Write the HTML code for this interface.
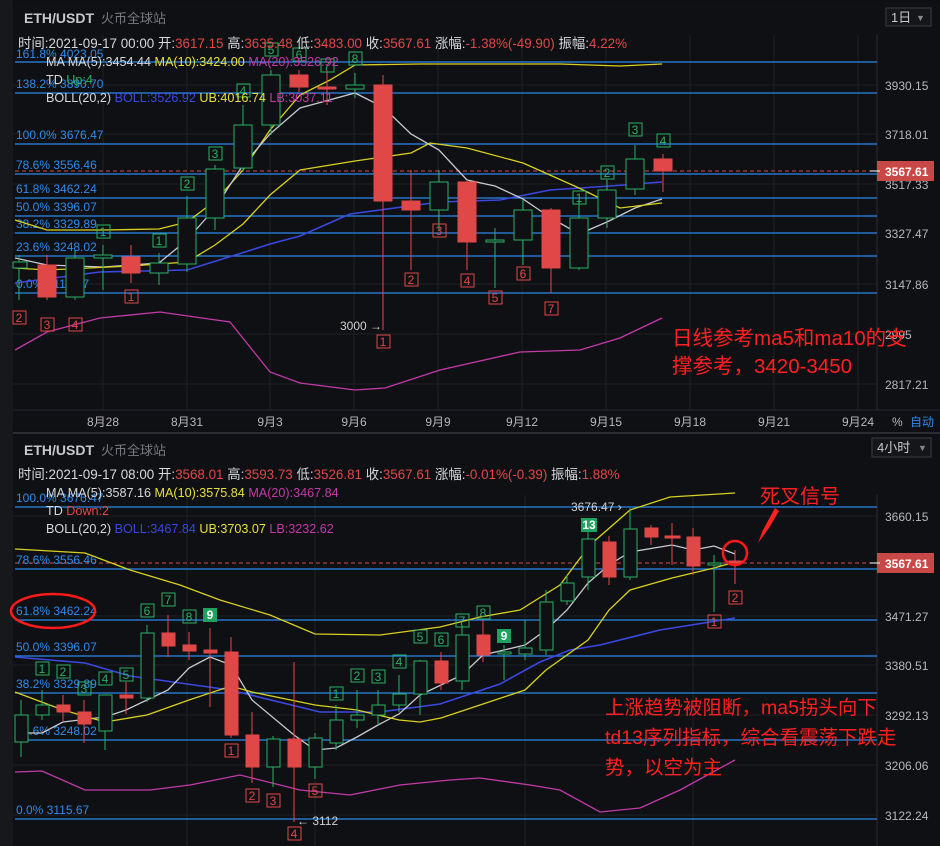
<!DOCTYPE html><html><head><meta charset="utf-8"><style>
body{margin:0;background:#0e0f12;}
svg{display:block}
text{font-family:"Liberation Sans","Noto Sans CJK SC",sans-serif;}
</style></head><body>
<svg width="940" height="846" viewBox="0 0 940 846" xmlns="http://www.w3.org/2000/svg">
<rect width="940" height="846" fill="#0e0f12"/>
<rect x="0" y="0" width="13" height="846" fill="#17181c"/>
<rect x="13" y="2" width="927" height="428" fill="#0f1013"/>
<rect x="13" y="436" width="927" height="410" fill="#0f1013"/>
<line x1="13" y1="433" x2="940" y2="433" stroke="#2a2c32" stroke-width="2"/>
<g stroke="#1d1f24" stroke-width="1">
<line x1="103" y1="35" x2="103" y2="410"/><line x1="187" y1="35" x2="187" y2="410"/><line x1="270" y1="35" x2="270" y2="410"/><line x1="354" y1="35" x2="354" y2="410"/><line x1="438" y1="35" x2="438" y2="410"/><line x1="522" y1="35" x2="522" y2="410"/><line x1="606" y1="35" x2="606" y2="410"/><line x1="690" y1="35" x2="690" y2="410"/><line x1="774" y1="35" x2="774" y2="410"/><line x1="858" y1="35" x2="858" y2="410"/>
<line x1="13" y1="85" x2="877" y2="85"/><line x1="13" y1="134" x2="877" y2="134"/><line x1="13" y1="184" x2="877" y2="184"/><line x1="13" y1="233" x2="877" y2="233"/><line x1="13" y1="284" x2="877" y2="284"/><line x1="13" y1="334" x2="877" y2="334"/><line x1="13" y1="384" x2="877" y2="384"/>
<line x1="13" y1="410" x2="940" y2="410" stroke="#24262c"/>
<line x1="187" y1="495" x2="187" y2="846"/><line x1="315" y1="495" x2="315" y2="846"/><line x1="525" y1="495" x2="525" y2="846"/><line x1="693" y1="495" x2="693" y2="846"/>
<line x1="13" y1="516" x2="877" y2="516"/><line x1="13" y1="616" x2="877" y2="616"/><line x1="13" y1="665" x2="877" y2="665"/><line x1="13" y1="715" x2="877" y2="715"/><line x1="13" y1="765" x2="877" y2="765"/><line x1="13" y1="815" x2="877" y2="815"/>
</g>
<line x1="877" y1="35" x2="877" y2="410" stroke="#2a2c32"/>
<line x1="877" y1="495" x2="877" y2="846" stroke="#2a2c32"/>
<g stroke="#2a86e8" stroke-width="1.3">
<line x1="15" y1="62" x2="877" y2="62"/><line x1="15" y1="93" x2="877" y2="93"/><line x1="15" y1="144" x2="877" y2="144"/><line x1="15" y1="174" x2="877" y2="174"/><line x1="15" y1="198" x2="877" y2="198"/><line x1="15" y1="216" x2="877" y2="216"/><line x1="15" y1="233" x2="877" y2="233"/><line x1="15" y1="256" x2="877" y2="256"/><line x1="15" y1="293" x2="877" y2="293"/>
</g>
<line x1="15" y1="171" x2="877" y2="171" stroke="#d94a4a" stroke-dasharray="4,3"/>
<g fill="#2f8bea" font-size="12">
<text x="16" y="58">161.8% 4023.05</text><text x="16" y="88">138.2% 3890.70</text><text x="16" y="139">100.0% 3676.47</text><text x="16" y="169">78.6% 3556.46</text><text x="16" y="193">61.8% 3462.24</text><text x="16" y="211">50.0% 3396.07</text><text x="16" y="228">38.2% 3329.89</text><text x="16" y="251">23.6% 3248.02</text><text x="16" y="288">0.0% 3115.67</text>
</g>
<g fill="none" stroke-width="1.3">
<polyline stroke="#d8d020" points="15,220 47,230 103,230 159,229 187,222 215,201 243,170 270,130 300,95 330,80 355,65 420,64 560,64 620,66 662,64"/>
<polyline stroke="#3a48e0" stroke-width="1.6" points="15,283 100,272 187,270 245,252 270,244 300,236 350,214 380,210 440,202 500,200 550,190 610,186 662,182"/>
<polyline stroke="#c23aa8" points="15,350 47,332 100,318 160,312 230,322 270,372 300,383 355,390 385,388 440,370 520,352 580,350 620,338 662,318"/>
<polyline stroke="#c8c8d0" points="15,258 47,265 103,267 159,263 187,240 215,208 243,165 270,134 300,108 355,93 383,107 411,134 439,150 467,180 495,186 523,199 551,218 579,234 607,222 635,208 662,199"/>
<polyline stroke="#d8d020" points="15,268 47,270 131,266 187,262 215,245 243,224 270,195 300,170 355,161 411,153 430,143 467,148 523,163 579,188 620,208 662,203"/>
</g>
<g stroke-width="1">
<g stroke="#2bb065" fill="#0f1013">
<line x1="19" y1="255" x2="19" y2="300"/><rect x="13" y="262" width="14" height="6"/>
<line x1="75" y1="250" x2="75" y2="300"/><rect x="66" y="258" width="18" height="39"/>
<line x1="103" y1="245" x2="103" y2="290"/><rect x="94" y="255" width="18" height="3"/>
<line x1="159" y1="253" x2="159" y2="285"/><rect x="150" y="263" width="18" height="10"/>
<line x1="187" y1="196" x2="187" y2="272"/><rect x="178" y="218" width="18" height="46"/>
<line x1="215" y1="165" x2="215" y2="230"/><rect x="206" y="169" width="18" height="49"/>
<line x1="243" y1="105" x2="243" y2="172"/><rect x="234" y="125" width="18" height="43"/>
<line x1="271" y1="70" x2="271" y2="135"/><rect x="262" y="75" width="18" height="50"/>
<line x1="355" y1="73" x2="355" y2="98"/><rect x="346" y="85" width="18" height="4"/>
<line x1="439" y1="170" x2="439" y2="230"/><rect x="430" y="182" width="18" height="28"/>
<line x1="495" y1="228" x2="495" y2="288"/><rect x="486" y="240" width="18" height="2"/>
<line x1="523" y1="200" x2="523" y2="265"/><rect x="514" y="210" width="18" height="30"/>
<line x1="579" y1="200" x2="579" y2="270"/><rect x="570" y="218" width="18" height="50"/>
<line x1="607" y1="180" x2="607" y2="228"/><rect x="598" y="190" width="18" height="28"/>
<line x1="635" y1="145" x2="635" y2="195"/><rect x="626" y="159" width="18" height="30"/>
</g>
<g stroke="#e04848" fill="#e04848">
<line x1="47" y1="255" x2="47" y2="300"/><rect x="38" y="265" width="18" height="32"/>
<line x1="131" y1="245" x2="131" y2="283"/><rect x="122" y="257" width="18" height="16"/>
<line x1="299" y1="70" x2="299" y2="92"/><rect x="290" y="75" width="18" height="12"/>
<line x1="327" y1="70" x2="327" y2="105"/><rect x="318" y="87" width="18" height="2"/>
<line x1="383" y1="75" x2="383" y2="330"/><rect x="374" y="85" width="18" height="116"/>
<line x1="411" y1="170" x2="411" y2="270"/><rect x="402" y="201" width="18" height="9"/>
<line x1="467" y1="180" x2="467" y2="270"/><rect x="458" y="182" width="18" height="60"/>
<line x1="551" y1="208" x2="551" y2="293"/><rect x="542" y="210" width="18" height="58"/>
<line x1="663" y1="154" x2="663" y2="192"/><rect x="654" y="159" width="18" height="12"/>
</g>
</g>
<g font-size="12" text-anchor="middle" fill="none" stroke-width="1">
<g stroke="#2bb065"><rect x="97" y="225" width="13" height="13"/><rect x="153" y="234" width="13" height="13"/><rect x="181" y="177" width="13" height="13"/><rect x="209" y="147" width="13" height="13"/><rect x="237" y="84" width="13" height="13"/><rect x="265" y="43" width="13" height="13"/><rect x="293" y="48" width="13" height="13"/><rect x="321" y="59" width="13" height="13"/><rect x="349" y="52" width="13" height="13"/><rect x="573" y="191" width="13" height="13"/><rect x="601" y="166" width="13" height="13"/><rect x="629" y="123" width="13" height="13"/><rect x="657" y="134" width="13" height="13"/></g>
<g stroke="#e04848"><rect x="13" y="311" width="13" height="13"/><rect x="41" y="318" width="13" height="13"/><rect x="69" y="318" width="13" height="13"/><rect x="125" y="290" width="13" height="13"/><rect x="377" y="335" width="13" height="13"/><rect x="405" y="273" width="13" height="13"/><rect x="433" y="224" width="13" height="13"/><rect x="461" y="274" width="13" height="13"/><rect x="489" y="291" width="13" height="13"/><rect x="517" y="267" width="13" height="13"/><rect x="545" y="302" width="13" height="13"/></g>
</g>
<g font-size="12" text-anchor="middle">
<g fill="#2bb065"><text x="103" y="236">1</text><text x="159" y="245">1</text><text x="187" y="188">2</text><text x="215" y="158">3</text><text x="243" y="95">4</text><text x="271" y="54">5</text><text x="299" y="59">6</text><text x="327" y="70">7</text><text x="355" y="63">8</text><text x="579" y="202">1</text><text x="607" y="177">2</text><text x="635" y="134">3</text><text x="663" y="145">4</text></g>
<g fill="#e04848"><text x="19" y="322">2</text><text x="47" y="329">3</text><text x="75" y="329">4</text><text x="131" y="301">1</text><text x="383" y="346">1</text><text x="411" y="284">2</text><text x="439" y="235">3</text><text x="467" y="285">4</text><text x="495" y="302">5</text><text x="523" y="278">6</text><text x="551" y="313">7</text></g>
</g>
<text x="340" y="330" fill="#d0d0d0" font-size="12">3000 →</text>
<text x="24" y="23" fill="#c8c8cc" font-size="14" font-weight="bold">ETH/USDT</text>
<text x="101" y="23" fill="#777a80" font-size="13">火币全球站</text>
<rect x="886" y="8" width="45" height="18" fill="#15161a" stroke="#3a3c42"/>
<text x="891" y="22" fill="#c8c8cc" font-size="13">1日</text><text x="916" y="21" fill="#888" font-size="9">▼</text>
<text x="18" y="48" font-size="13.4" fill="#d8d8dc">时间:2021-09-17 00:00 开:<tspan fill="#e04848">3617.15</tspan> 高:<tspan fill="#e04848">3635.48</tspan> 低:<tspan fill="#e04848">3483.00</tspan> 收:<tspan fill="#e04848">3567.61</tspan> 涨幅:<tspan fill="#e04848">-1.38%(-49.90)</tspan> 振幅:<tspan fill="#e04848">4.22%</tspan></text>
<text x="46" y="66" font-size="12.6" fill="#d8d8dc">MA  MA(5):3454.44 <tspan fill="#e8e040">MA(10):3424.00</tspan> <tspan fill="#c23aa8">MA(20):3526.92</tspan></text>
<text x="46" y="84" font-size="12.6" fill="#d8d8dc">TD  <tspan fill="#2bb065">Up:4</tspan></text>
<text x="46" y="102" font-size="12.6" fill="#d8d8dc">BOLL(20,2) <tspan fill="#3a48e0">BOLL:3526.92</tspan> <tspan fill="#e8e040">UB:4016.74</tspan> <tspan fill="#c23aa8">LB:3037.11</tspan></text>
<g font-size="12" fill="#b8b8bc">
<text x="885" y="90">3930.15</text><text x="885" y="139">3718.01</text><text x="885" y="189">3517.33</text><text x="885" y="238">3327.47</text><text x="885" y="289">3147.86</text><text x="885" y="339">2995</text><text x="885" y="389">2817.21</text>
</g>
<rect x="877" y="161" width="57" height="20" fill="#c84848"/><line x1="870" y1="171" x2="880" y2="171" stroke="#fff"/>
<text x="885" y="176" font-size="12" font-weight="bold" fill="#fff">3567.61</text>
<g font-size="12" fill="#b8b8bc" text-anchor="middle">
<text x="103" y="426">8月28</text><text x="187" y="426">8月31</text><text x="270" y="426">9月3</text><text x="354" y="426">9月6</text><text x="438" y="426">9月9</text><text x="522" y="426">9月12</text><text x="606" y="426">9月15</text><text x="690" y="426">9月18</text><text x="774" y="426">9月21</text><text x="858" y="426">9月24</text>
</g>
<text x="892" y="426" font-size="12" fill="#b8b8bc">%</text><text x="910" y="426" font-size="12" fill="#2f8bea">自动</text>
<text x="672" y="345" fill="#ff2020" font-size="20.5">日线参考ma5和ma10的支</text>
<text x="672" y="373" fill="#ff2020" font-size="20.5">撑参考，3420-3450</text>

<g stroke="#2a86e8" stroke-width="1.3">
<line x1="15" y1="507" x2="877" y2="507"/><line x1="15" y1="569" x2="877" y2="569"/><line x1="15" y1="620" x2="877" y2="620"/><line x1="15" y1="656" x2="877" y2="656"/><line x1="15" y1="693" x2="877" y2="693"/><line x1="15" y1="740" x2="877" y2="740"/><line x1="15" y1="819" x2="877" y2="819"/>
</g>
<line x1="15" y1="563" x2="877" y2="563" stroke="#d94a4a" stroke-dasharray="4,3"/>
<g fill="#2f8bea" font-size="12">
<text x="16" y="502">100.0% 3676.47</text><text x="16" y="564">78.6% 3556.46</text><text x="16" y="615">61.8% 3462.24</text><text x="16" y="651">50.0% 3396.07</text><text x="16" y="688">38.2% 3329.89</text><text x="16" y="735">23.6% 3248.02</text><text x="16" y="814">0.0% 3115.67</text>
</g>
<g fill="none" stroke-width="1.3">
<polyline stroke="#d8d020" points="15,549 85,553 130,570 180,585 220,600 270,615 315,634 380,635 440,627 480,617 520,610 560,585 590,545 630,510 670,497 735,493"/>
<polyline stroke="#3a48e0" stroke-width="1.6" points="15,657 85,663 130,676 230,690 320,712 380,712 440,704 500,684 540,662 570,650 600,645 660,630 735,618"/>
<polyline stroke="#c23aa8" points="15,772 42,771 85,790 150,790 190,785 240,775 300,790 350,795 400,785 450,780 480,778 530,785 560,790 600,812 640,808 680,790 735,760"/>
<polyline stroke="#c8c8d0" points="21,733 42,733 63,722 105,717 126,710 168,690 189,668 210,657 231,665 252,700 294,735 315,750 336,748 357,737 378,725 399,714 420,695 441,685 462,675 483,655 504,650 525,645 546,630 567,610 588,583 609,565 630,552 672,545 693,550 714,546 735,554"/>
<polyline stroke="#d8d020" points="15,692 63,710 105,722 147,715 189,700 231,686 252,692 315,705 357,710 399,720 420,722 441,718 483,704 525,690 546,670 588,640 609,610 630,590 672,578 714,568 735,562"/>
</g>
<g stroke-width="1">
<g stroke="#2bb065" fill="#0f1013">
<line x1="21" y1="700" x2="21" y2="757"/><rect x="15" y="715" width="13" height="27"/>
<line x1="42" y1="690" x2="42" y2="720"/><rect x="36" y="705" width="13" height="10"/>
<line x1="105" y1="695" x2="105" y2="750"/><rect x="99" y="695" width="13" height="36"/>
<line x1="147" y1="625" x2="147" y2="702"/><rect x="141" y="633" width="13" height="65"/>
<line x1="273" y1="736" x2="273" y2="787"/><rect x="267" y="739" width="13" height="28"/>
<line x1="315" y1="733" x2="315" y2="779"/><rect x="309" y="738" width="13" height="29"/>
<line x1="336" y1="705" x2="336" y2="750"/><rect x="330" y="720" width="13" height="23"/>
<line x1="357" y1="690" x2="357" y2="728"/><rect x="351" y="715" width="13" height="5"/>
<line x1="378" y1="690" x2="378" y2="725"/><rect x="372" y="705" width="13" height="10"/>
<line x1="399" y1="675" x2="399" y2="712"/><rect x="393" y="694" width="13" height="11"/>
<line x1="420" y1="660" x2="420" y2="715"/><rect x="414" y="661" width="13" height="33"/>
<line x1="462" y1="625" x2="462" y2="690"/><rect x="456" y="635" width="13" height="46"/>
<line x1="504" y1="645" x2="504" y2="680"/><rect x="498" y="652" width="13" height="2"/>
<line x1="525" y1="620" x2="525" y2="660"/><rect x="519" y="648" width="13" height="6"/>
<line x1="546" y1="590" x2="546" y2="655"/><rect x="540" y="602" width="13" height="48"/>
<line x1="567" y1="575" x2="567" y2="605"/><rect x="561" y="583" width="13" height="18"/>
<line x1="588" y1="532" x2="588" y2="590"/><rect x="582" y="539" width="13" height="38"/>
<line x1="630" y1="508" x2="630" y2="580"/><rect x="624" y="529" width="13" height="48"/>
<line x1="714" y1="555" x2="714" y2="612"/><rect x="708" y="563" width="13" height="2"/>
</g>
<g stroke="#e04848" fill="#e04848">
<line x1="63" y1="695" x2="63" y2="722"/><rect x="57" y="705" width="13" height="7"/>
<line x1="84" y1="700" x2="84" y2="743"/><rect x="78" y="712" width="13" height="12"/>
<line x1="126" y1="682" x2="126" y2="714"/><rect x="120" y="695" width="13" height="3"/>
<line x1="168" y1="615" x2="168" y2="657"/><rect x="162" y="633" width="13" height="13"/>
<line x1="189" y1="632" x2="189" y2="660"/><rect x="183" y="645" width="13" height="6"/>
<line x1="210" y1="628" x2="210" y2="707"/><rect x="204" y="650" width="13" height="3"/>
<line x1="231" y1="637" x2="231" y2="738"/><rect x="225" y="652" width="13" height="83"/>
<line x1="252" y1="712" x2="252" y2="783"/><rect x="246" y="735" width="13" height="32"/>
<line x1="294" y1="662" x2="294" y2="822"/><rect x="288" y="739" width="13" height="28"/>
<line x1="441" y1="652" x2="441" y2="690"/><rect x="435" y="661" width="13" height="22"/>
<line x1="483" y1="620" x2="483" y2="662"/><rect x="477" y="635" width="13" height="20"/>
<line x1="609" y1="536" x2="609" y2="585"/><rect x="603" y="542" width="13" height="35"/>
<line x1="651" y1="525" x2="651" y2="545"/><rect x="645" y="528" width="13" height="9"/>
<line x1="672" y1="523" x2="672" y2="565"/><rect x="665" y="536" width="15" height="2"/>
<line x1="693" y1="528" x2="693" y2="575"/><rect x="687" y="537" width="13" height="29"/>
<line x1="735" y1="550" x2="735" y2="584"/><rect x="729" y="561" width="13" height="2"/>
</g>
</g>
<g fill="none" stroke-width="1">
<g stroke="#2bb065"><rect x="36" y="662" width="13" height="13"/><rect x="57" y="665" width="13" height="13"/><rect x="78" y="682" width="13" height="13"/><rect x="99" y="672" width="13" height="13"/><rect x="120" y="668" width="13" height="13"/><rect x="141" y="604" width="13" height="13"/><rect x="162" y="593" width="13" height="13"/><rect x="183" y="610" width="13" height="13"/><rect x="330" y="687" width="13" height="13"/><rect x="351" y="669" width="13" height="13"/><rect x="372" y="670" width="13" height="13"/><rect x="393" y="655" width="13" height="13"/><rect x="414" y="630" width="13" height="13"/><rect x="435" y="633" width="13" height="13"/><rect x="456" y="614" width="13" height="13"/><rect x="477" y="606" width="13" height="13"/></g>
<g stroke="#e04848"><rect x="225" y="744" width="13" height="13"/><rect x="246" y="789" width="13" height="13"/><rect x="267" y="794" width="13" height="13"/><rect x="288" y="827" width="13" height="13"/><rect x="309" y="784" width="13" height="13"/><rect x="708" y="615" width="13" height="13"/><rect x="729" y="591" width="13" height="13"/></g>
</g>
<rect x="203" y="608" width="14" height="14" fill="#1fa260"/><rect x="497" y="629" width="14" height="14" fill="#1fa260"/><rect x="581" y="518" width="16" height="14" fill="#1fa260"/>
<g font-size="12" text-anchor="middle">
<g fill="#2bb065"><text x="42" y="673">1</text><text x="63" y="676">2</text><text x="84" y="693">3</text><text x="105" y="683">4</text><text x="126" y="679">5</text><text x="147" y="615">6</text><text x="168" y="604">7</text><text x="189" y="621">8</text><text x="336" y="698">1</text><text x="357" y="680">2</text><text x="378" y="681">3</text><text x="399" y="666">4</text><text x="420" y="641">5</text><text x="441" y="644">6</text><text x="462" y="625">7</text><text x="483" y="617">8</text></g>
<g fill="#fff" font-weight="bold"><text x="210" y="619">9</text><text x="504" y="640">9</text><text x="589" y="529">13</text></g>
<g fill="#e04848"><text x="231" y="755">1</text><text x="252" y="800">2</text><text x="273" y="805">3</text><text x="294" y="838">4</text><text x="315" y="795">5</text><text x="714" y="626">1</text><text x="735" y="602">2</text></g>
</g>
<text x="297" y="825" fill="#d0d0d0" font-size="12">← 3112</text>
<text x="571" y="511" fill="#d0d0d0" font-size="12">3676.47 ›</text>
<text x="24" y="455" fill="#c8c8cc" font-size="14" font-weight="bold">ETH/USDT</text>
<text x="101" y="455" fill="#777a80" font-size="13">火币全球站</text>
<rect x="872" y="438" width="59" height="19" fill="#15161a" stroke="#3a3c42"/>
<text x="877" y="452" fill="#c8c8cc" font-size="13">4小时</text><text x="918" y="451" fill="#888" font-size="9">▼</text>
<text x="18" y="479" font-size="13.4" fill="#d8d8dc">时间:2021-09-17 08:00 开:<tspan fill="#e04848">3568.01</tspan> 高:<tspan fill="#e04848">3593.73</tspan> 低:<tspan fill="#e04848">3526.81</tspan> 收:<tspan fill="#e04848">3567.61</tspan> 涨幅:<tspan fill="#e04848">-0.01%(-0.39)</tspan> 振幅:<tspan fill="#e04848">1.88%</tspan></text>
<text x="46" y="497" font-size="12.6" fill="#d8d8dc">MA  MA(5):3587.16 <tspan fill="#e8e040">MA(10):3575.84</tspan> <tspan fill="#c23aa8">MA(20):3467.84</tspan></text>
<text x="46" y="515" font-size="12.6" fill="#d8d8dc">TD  <tspan fill="#e04848">Down:2</tspan></text>
<text x="46" y="533" font-size="12.6" fill="#d8d8dc">BOLL(20,2) <tspan fill="#3a48e0">BOLL:3467.84</tspan> <tspan fill="#e8e040">UB:3703.07</tspan> <tspan fill="#c23aa8">LB:3232.62</tspan></text>
<g font-size="12" fill="#b8b8bc">
<text x="885" y="521">3660.15</text><text x="885" y="621">3471.27</text><text x="885" y="670">3380.51</text><text x="885" y="720">3292.13</text><text x="885" y="770">3206.06</text><text x="885" y="820">3122.24</text>
</g>
<rect x="877" y="553" width="57" height="20" fill="#c84848"/><line x1="870" y1="563" x2="880" y2="563" stroke="#fff"/>
<text x="885" y="568" font-size="12" font-weight="bold" fill="#fff">3567.61</text>
<ellipse cx="53" cy="611" rx="42" ry="17" fill="none" stroke="#ff1a1a" stroke-width="2.5"/>
<circle cx="735" cy="553" r="12" fill="none" stroke="#ff1a1a" stroke-width="2.5"/>
<text x="760" y="503" fill="#ff2020" font-size="20">死叉信号</text>
<polygon points="775,508 763,530 758,543 769,528 779,511" fill="#ff2020"/>
<text x="605" y="714" fill="#ff2020" font-size="19.5">上涨趋势被阻断，ma5拐头向下</text>
<text x="605" y="744" fill="#ff2020" font-size="19.5">td13序列指标，综合看震荡下跌走</text>
<text x="605" y="774" fill="#ff2020" font-size="19.5">势，以空为主</text>
</svg>
</body></html>
